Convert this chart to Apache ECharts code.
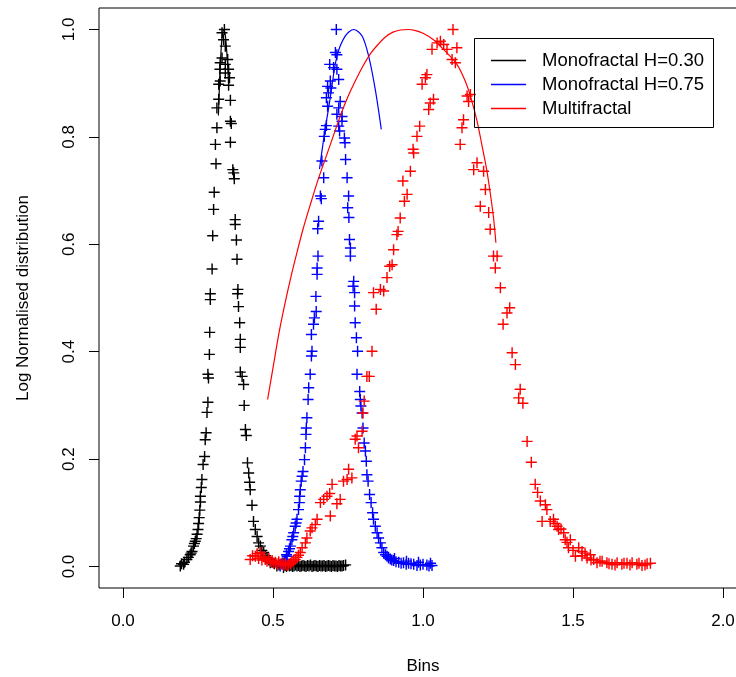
<!DOCTYPE html>
<html>
<head>
<meta charset="utf-8">
<script src="https://cdn.jsdelivr.net/npm/echarts@6/dist/echarts.min.js"></script>
<style>html,body{margin:0;padding:0;background:#fff;}#c{width:736px;height:677px;}</style>
</head>
<body>
<div id="c"></div>
<script>
// ---- tick labels ----
const xTicks = [0, 0.5, 1, 1.5, 2];
const yTicks = [0, 0.2, 0.4, 0.6, 0.8, 1];

// ---- Monofractal H=0.30 (black crosses) ----
const blackX = [0.191,0.202,0.213,0.224,0.230,0.235,0.241,0.247,0.250,0.254,0.258,0.258,0.261,0.263,0.267,0.272,0.274,0.277,0.280,0.283,0.285,0.283,0.288,0.289,0.291,0.291,0.297,0.299,0.302,0.304,0.310,0.308,0.313,0.313,0.319,0.319,0.324,0.323,0.324,0.330,0.335,0.330,0.338,
  0.195,0.205,0.218,0.227,0.238,0.244,0.252,0.256,
  0.341,0.349,0.341,0.352,0.341,0.355,0.352,0.358,0.358,0.361,0.358,0.366,0.369,0.371,0.374,0.374,0.378,0.380,0.383,0.382,0.385,0.389,0.391,0.391,0.391,0.397,0.402,0.404,0.408,0.411,0.415,0.419,0.422,0.424,0.430,0.435,0.441,0.447,0.452,0.458,0.469,0.480,0.491,0.513,0.535,
  0.463,0.475,0.486,0.497,0.505,0.520,
  0.540,0.545,0.550,0.555,0.560,0.565,0.570,0.575,0.580,0.585,0.590,0.595,0.600,0.605,0.610,0.615,0.620,0.625,0.630,0.635,0.640,0.645,0.650,0.655,0.660,0.665,0.670,0.675,0.680,0.685,0.690,0.695,0.700,0.705,0.710,0.715,0.720,0.725,0.730,0.735,0.742];
const blackY = [0.001,0.004,0.013,0.022,0.028,0.038,0.047,0.060,0.069,0.091,0.120,0.131,0.147,0.162,0.190,0.205,0.236,0.249,0.287,0.306,0.351,0.358,0.395,0.436,0.497,0.508,0.554,0.616,0.665,0.697,0.750,0.786,0.817,0.854,0.870,0.898,0.904,0.926,0.938,0.947,0.981,0.994,1.000,
  0.005,0.008,0.017,0.025,0.043,0.052,0.080,0.105,
  0.969,0.944,0.935,0.926,0.919,0.910,0.896,0.868,0.829,0.825,0.790,0.739,0.733,0.722,0.646,0.637,0.608,0.572,0.516,0.508,0.484,0.454,0.423,0.408,0.362,0.354,0.339,0.300,0.255,0.244,0.193,0.174,0.157,0.143,0.114,0.084,0.069,0.056,0.044,0.038,0.026,0.016,0.007,0.001,-0.002,
  0.030,0.020,0.012,0.008,0.005,0.003,
  0.002,0.000,0.003,0.001,0.002,0.000,0.001,0.003,0.001,0.002,0.000,0.001,0.002,0.001,0.000,0.002,0.001,0.003,0.000,0.001,0.002,0.001,0.000,0.002,0.001,0.001,0.002,0.000,0.001,0.002,0.001,0.000,0.002,0.001,0.001,0.000,0.002,0.001,0.001,0.002,0.003];

// ---- Monofractal H=0.75 (blue crosses) ----
const blueX = [0.711,0.708,0.713,0.689,0.702,0.713,0.691,0.682,0.693,0.685,0.678,0.682,0.678,0.674,0.671,0.663,0.669,0.658,0.661,0.652,0.649,0.650,0.647,0.647,0.643,0.644,0.638,0.635,0.628,0.630,0.628,0.624,0.619,0.617,0.613,0.611,0.610,0.608,0.605,0.600,0.597,0.594,0.591,0.589,0.588,0.585,0.580,0.574,0.569,0.563,0.558,0.552,0.547,0.541,0.533,0.524,
  0.530,0.538,0.545,0.555,0.566,0.577,
  0.719,0.724,0.719,0.713,0.730,0.730,0.719,0.722,0.738,0.740,0.742,0.747,0.752,0.749,0.753,0.755,0.758,0.758,0.769,0.767,0.772,0.772,0.774,0.778,0.782,0.780,0.789,0.791,0.793,0.797,0.800,0.804,0.808,0.811,0.813,0.817,0.822,0.827,0.832,0.835,0.841,0.847,0.852,0.858,0.863,0.869,0.880,0.891,0.902,0.919,0.935,0.952,0.969,0.991,1.013,1.030,
  0.875,0.885,0.896,0.910,0.927,0.944,0.960,0.980,1.000,1.020,0.905,0.945,0.985,1.025];
const blueY = [1.000,0.957,0.953,0.935,0.929,0.926,0.904,0.894,0.891,0.882,0.873,0.857,0.821,0.814,0.801,0.755,0.724,0.690,0.685,0.643,0.629,0.578,0.556,0.544,0.503,0.475,0.463,0.451,0.432,0.401,0.392,0.358,0.333,0.311,0.277,0.258,0.246,0.221,0.199,0.177,0.168,0.159,0.143,0.131,0.119,0.106,0.088,0.075,0.063,0.050,0.038,0.028,0.019,0.013,0.007,0.001,
  0.004,0.010,0.022,0.033,0.056,0.081,
  0.907,0.866,0.854,0.842,0.838,0.829,0.820,0.811,0.798,0.789,0.758,0.724,0.690,0.668,0.650,0.609,0.593,0.578,0.531,0.522,0.510,0.485,0.454,0.426,0.401,0.358,0.326,0.311,0.299,0.286,0.258,0.230,0.215,0.196,0.171,0.159,0.134,0.119,0.100,0.088,0.075,0.063,0.053,0.044,0.035,0.026,0.019,0.014,0.011,0.008,0.007,0.006,0.004,0.003,0.003,0.002,
  0.022,0.016,0.012,0.009,0.006,0.004,0.005,0.002,0.004,0.001,0.015,0.010,0.008,0.006];

// ---- Multifractal (red crosses) ----
const redX = [0.424,0.432,0.441,0.447,0.452,0.458,0.463,0.469,0.474,0.480,0.486,0.491,0.497,0.502,0.508,0.513,0.519,0.524,0.530,0.536,0.541,0.547,0.552,0.558,0.563,0.569,0.574,0.580,0.585,
  0.591,0.597,0.608,0.613,0.624,0.630,0.641,0.647,0.691,0.658,0.669,0.680,0.689,0.697,0.713,0.724,0.735,0.747,0.752,0.763,0.774,0.780,0.785,0.797,0.800,0.804,0.813,0.821,0.830,0.844,
  0.835,0.858,0.869,0.880,0.889,0.897,0.902,0.913,0.917,0.924,0.938,0.947,0.933,0.958,0.969,0.967,0.980,0.989,1.019,1.024,1.035,0.997,1.008,1.013,1.030,1.047,1.058,1.069,1.080,1.100,1.113,1.097,1.108,
  1.147,1.158,1.152,1.135,1.130,1.124,1.180,1.169,1.202,1.208,1.191,1.219,1.224,1.235,1.247,1.241,1.258,1.289,1.280,1.267,1.297,1.308,1.324,1.319,1.333,1.347,1.361,1.374,1.382,1.391,1.408,1.413,1.397,1.424,1.435,1.447,1.452,1.469,1.474,1.491,1.485,1.508,1.519,1.530,1.547,1.558,1.569,1.580,1.597,1.613,1.630,1.647,1.663,1.680,1.697,1.713,1.730,1.747,1.758,
  1.440,1.460,1.480,1.500,1.530,1.540,1.560,1.590,1.620,1.640,1.670,1.690,1.720,1.740];
const redY = [0.013,0.020,0.019,0.024,0.015,0.026,0.012,0.018,0.013,0.010,0.015,0.009,0.011,0.006,0.008,0.005,0.009,0.004,0.006,0.003,0.005,0.002,0.004,0.006,0.008,0.010,0.013,0.017,0.021,
  0.026,0.035,0.044,0.053,0.066,0.072,0.078,0.088,0.094,0.119,0.125,0.131,0.136,0.153,0.117,0.125,0.159,0.162,0.181,0.165,0.237,0.243,0.221,0.252,0.286,0.308,0.354,0.354,0.401,0.479,
  0.510,0.516,0.513,0.538,0.559,0.562,0.590,0.618,0.624,0.649,0.680,0.693,0.718,0.736,0.770,0.777,0.801,0.820,0.851,0.863,0.870,0.898,0.910,0.916,0.963,0.975,0.978,0.972,0.963,1.000,0.966,0.944,0.938,
  0.876,0.879,0.866,0.832,0.817,0.786,0.752,0.739,0.736,0.702,0.671,0.659,0.628,0.578,0.578,0.556,0.519,0.482,0.472,0.451,0.398,0.376,0.330,0.314,0.304,0.233,0.194,0.153,0.138,0.122,0.115,0.106,0.084,0.084,0.088,0.075,0.069,0.063,0.050,0.050,0.035,0.019,0.035,0.028,0.016,0.022,0.013,0.007,0.010,0.007,0.004,0.007,0.004,0.006,0.007,0.004,0.002,0.005,0.006,
  0.080,0.070,0.045,0.030,0.020,0.025,0.012,0.010,0.005,0.003,0.006,0.003,0.006,0.003];

// ---- fitted curves ----
const blackCurveX = [0.318,0.324,0.330,0.336,0.342,0.348,0.352];
const blackCurveY = [0.840,0.930,0.985,1.000,0.985,0.940,0.900];
const blueCurveX = [0.655,0.670,0.690,0.713,0.741,0.769,0.797,0.819,0.841,0.861];
const blueCurveY = [0.740,0.800,0.870,0.950,0.988,1.000,0.988,0.950,0.888,0.814];
const redCurveX = [0.482,0.500,0.520,0.540,0.560,0.580,0.600,0.625,0.650,0.675,0.700,0.725,0.750,0.775,0.800,0.825,0.850,0.875,0.900,0.925,0.952,0.975,1.000,1.035,1.070,1.113,1.140,1.158,1.180,1.197,1.212,1.224,1.235,1.243];
const redCurveY = [0.311,0.370,0.435,0.490,0.540,0.585,0.628,0.675,0.720,0.760,0.800,0.840,0.875,0.905,0.932,0.955,0.972,0.986,0.995,0.999,1.000,0.998,0.993,0.981,0.962,0.935,0.905,0.876,0.830,0.783,0.740,0.696,0.650,0.603];

const legendNames = ['Monofractal H=0.30', 'Monofractal H=0.75', 'Multifractal'];

function zip(xs, ys) { return xs.map((x, i) => [x, ys[i]]); }

const plus = 'path://M4.35,0H5.65V4.35H10V5.65H5.65V10H4.35V5.65H0V4.35H4.35Z';
const FONT = 'Liberation Sans, Arial, Helvetica, sans-serif';

function scatter(name, xs, ys, color) {
  return {
    type: 'scatter', name: name, data: zip(xs, ys),
    symbol: plus, symbolSize: 11, itemStyle: { color: color, opacity: 1 },
    emphasis: { disabled: true }, silent: true, z: 2
  };
}
function curve(name, xs, ys, color) {
  return {
    type: 'line', name: name, data: zip(xs, ys), smooth: 0.3,
    showSymbol: false, symbol: 'none', lineStyle: { color: color, width: 1.2 },
    itemStyle: { color: color }, silent: true, z: 3
  };
}

const chart = echarts.init(document.getElementById('c'), null, { renderer: 'canvas' });
chart.setOption({
  animation: false,
  backgroundColor: '#fff',
  textStyle: { fontFamily: FONT },
  grid: { left: 99, top: 8, width: 648, height: 580, outerBoundsMode: 'none', containLabel: false,
          show: true, borderColor: '#000', borderWidth: 1, backgroundColor: 'transparent' },
  xAxis: {
    type: 'value', min: -0.08, max: 2.08,
    axisLine: { show: false, onZero: false },
    axisTick: { show: true, inside: false, length: 10, lineStyle: { color: '#000', width: 1 }, customValues: xTicks },
    axisLabel: { customValues: xTicks, formatter: v => v.toFixed(1), color: '#000', fontSize: 17, fontFamily: FONT, margin: 25 },
    splitLine: { show: false },
    name: 'Bins', nameLocation: 'middle', nameGap: 70,
    nameTextStyle: { color: '#000', fontSize: 17, fontFamily: FONT }
  },
  yAxis: {
    type: 'value', min: -0.04, max: 1.04,
    axisLine: { show: false, onZero: false },
    axisTick: { show: true, inside: false, length: 10, lineStyle: { color: '#000', width: 1 }, customValues: yTicks },
    axisLabel: { customValues: yTicks, formatter: v => v.toFixed(1), rotate: 90, color: '#000', fontSize: 17, fontFamily: FONT, margin: 21 },
    splitLine: { show: false },
    name: 'Log Normalised distribution', nameLocation: 'middle', nameGap: 67, nameRotate: 90,
    nameTextStyle: { color: '#000', fontSize: 17, fontFamily: FONT }
  },
  legend: {
    data: legendNames.map(n => ({ name: n, icon: 'rect' })),
    orient: 'vertical', left: 491, top: 51, padding: 0,
    itemWidth: 35, itemHeight: 1.5, itemGap: 5,
    textStyle: { color: '#000', fontSize: 18.5, fontFamily: FONT, lineHeight: 18, padding: [0, 0, 0, 11] },
    selectedMode: false
  },
  graphic: [{
    type: 'rect', shape: { x: 474.5, y: 38.5, width: 239, height: 89 },
    style: { fill: 'none', stroke: '#000', lineWidth: 1 }, z: 10, silent: true
  }],
  series: [
    scatter('black pts', blackX, blackY, '#000000'),
    scatter('blue pts', blueX, blueY, '#0000ff'),
    scatter('red pts', redX, redY, '#ff0000'),
    curve(legendNames[0], blackCurveX, blackCurveY, '#000000'),
    curve(legendNames[1], blueCurveX, blueCurveY, '#0000ff'),
    curve(legendNames[2], redCurveX, redCurveY, '#ff0000')
  ]
});
</script>
</body>
</html>
